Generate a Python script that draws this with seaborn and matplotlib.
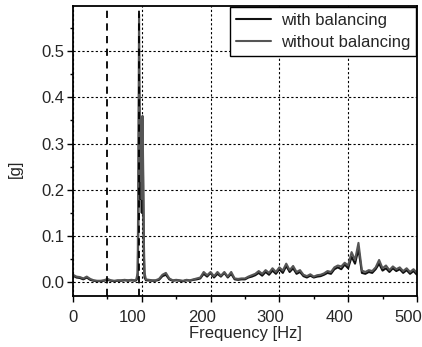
import numpy as np
import pandas as pd
import matplotlib
matplotlib.use('Agg')
import matplotlib.pyplot as plt
import matplotlib.transforms as mtransforms
import seaborn as sns
from matplotlib.ticker import MultipleLocator, FormatStrFormatter

# frequency grid [Hz] (denser around the 100 Hz peak)
freq = [0, 5, 10, 15, 20, 25, 30, 35, 40, 45, 50, 55, 60, 65, 70, 75, 80, 85, 90, 92,
        94, 95, 96, 97, 98, 99, 100, 101, 102, 103, 104, 106,
        115, 120, 125, 130, 135, 140, 145, 150, 155, 160, 165, 170, 175, 180, 185, 190, 195,
        200, 205, 210, 215, 220, 225, 230, 235, 240, 245, 250, 255, 260, 265, 270, 275, 280,
        285, 290, 295, 300, 305, 310, 315, 320, 325, 330, 335, 340, 345, 350, 355, 360, 365,
        370, 375, 380, 385, 390, 395, 400, 405, 410, 415, 420, 425, 430, 435, 440, 445, 450,
        455, 460, 465, 470, 475, 480, 485, 490, 495, 500]

with_bal = [0.014, 0.010, 0.009, 0.006, 0.010, 0.005, 0.003, 0.002, 0.002, 0.003,
            0.005, 0.003, 0.002, 0.003, 0.003, 0.004, 0.003, 0.004, 0.003, 0.004,
            0.010, 0.120, 0.420, 0.300, 0.180, 0.250, 0.150, 0.350, 0.200, 0.060, 0.010, 0.004,
            0.003, 0.003, 0.005, 0.013, 0.016, 0.006, 0.003, 0.004, 0.003, 0.002, 0.004, 0.003,
            0.005, 0.006, 0.008, 0.018, 0.012,
            0.020, 0.010, 0.018, 0.012, 0.020, 0.010, 0.018, 0.006, 0.005, 0.006, 0.006,
            0.010, 0.012, 0.015, 0.020, 0.014, 0.022,
            0.016, 0.025, 0.018, 0.028, 0.020, 0.035, 0.022, 0.030, 0.018, 0.022, 0.013,
            0.010, 0.014, 0.010, 0.012, 0.013, 0.016,
            0.020, 0.018, 0.028, 0.032, 0.028, 0.038, 0.030, 0.055, 0.040, 0.072, 0.020,
            0.018, 0.022, 0.020, 0.028, 0.040, 0.025,
            0.030, 0.022, 0.030, 0.024, 0.028, 0.020, 0.026, 0.018, 0.024, 0.016]

without_bal = [0.016, 0.012, 0.011, 0.008, 0.012, 0.007, 0.004, 0.003, 0.003, 0.004,
               0.007, 0.004, 0.003, 0.004, 0.004, 0.005, 0.004, 0.005, 0.004, 0.006,
               0.020, 0.250, 0.580, 0.400, 0.220, 0.300, 0.180, 0.360, 0.250, 0.090, 0.020, 0.006,
               0.004, 0.004, 0.007, 0.016, 0.020, 0.008, 0.004, 0.005, 0.004, 0.003, 0.005, 0.004,
               0.006, 0.008, 0.010, 0.022, 0.015,
               0.022, 0.013, 0.022, 0.014, 0.022, 0.012, 0.022, 0.008, 0.007, 0.008, 0.008,
               0.012, 0.015, 0.018, 0.024, 0.018, 0.026,
               0.020, 0.030, 0.022, 0.032, 0.025, 0.040, 0.026, 0.035, 0.022, 0.026, 0.016,
               0.013, 0.017, 0.012, 0.015, 0.016, 0.019,
               0.024, 0.022, 0.032, 0.036, 0.034, 0.042, 0.036, 0.065, 0.048, 0.085, 0.025,
               0.022, 0.026, 0.024, 0.032, 0.048, 0.030,
               0.036, 0.026, 0.034, 0.028, 0.032, 0.024, 0.030, 0.022, 0.028, 0.020]

df = pd.DataFrame({'freq': freq, 'with balancing': with_bal,
                   'without balancing': without_bal})
long = df.melt(id_vars='freq', var_name='series', value_name='g')

sns.set_style('white')
plt.rcParams['font.family'] = ['Liberation Sans', 'DejaVu Sans']

fig = plt.figure(figsize=(4.22, 3.47), dpi=100)
ax = fig.add_axes([0.173, 0.147, 0.815, 0.836])

sns.lineplot(data=long, x='freq', y='g', hue='series', ax=ax,
             palette={'with balancing': '#111111', 'without balancing': '#555555'},
             linewidth=1.5)

ax.set_xlim(0, 500)
ax.set_ylim(-0.03, 0.598)
ax.xaxis.set_major_locator(MultipleLocator(100))
ax.yaxis.set_major_locator(MultipleLocator(0.1))
ax.xaxis.set_minor_locator(MultipleLocator(50))
ax.yaxis.set_minor_locator(MultipleLocator(0.05))
ax.yaxis.set_major_formatter(FormatStrFormatter('%.1f'))
ax.grid(True, which='major', linestyle=(0, (2, 2)), color='black', linewidth=0.8)
ax.axvline(49, color='black', linestyle=(0, (4, 3)), linewidth=1.3)
ax.axvline(96, color='black', linestyle=(0, (4, 3)), linewidth=1.3)

ax.tick_params(axis='both', which='major', direction='out', length=4, width=1,
               labelsize=12, color='black', bottom=True, left=True, pad=2)
ax.tick_params(axis='x', which='major', pad=6)
ax.tick_params(axis='both', which='minor', direction='out', length=2.5, width=1,
               color='black', bottom=True, left=True)
# x tick labels end just right of their ticks in the reference
shift = mtransforms.ScaledTranslation(5 / 100, 0, fig.dpi_scale_trans)
for lab in ax.get_xticklabels():
    lab.set_horizontalalignment('right')
    lab.set_transform(lab.get_transform() + shift)
for s in ax.spines.values():
    s.set_color('black')
    s.set_linewidth(1.3)

ax.set_xlabel('Frequency [Hz]', fontsize=12, labelpad=1)
ax.set_ylabel('[g]', fontsize=12)
ax.yaxis.set_label_coords(-0.145, 0.44)

leg = ax.legend(loc='upper right', fontsize=12, frameon=True, fancybox=False,
                edgecolor='black', framealpha=1, borderaxespad=0.05, handlelength=2.1,
                handletextpad=0.6, borderpad=0.35, labelspacing=0.45)
leg.get_frame().set_linewidth(1.0)

fig.savefig('out.png', dpi=100)
